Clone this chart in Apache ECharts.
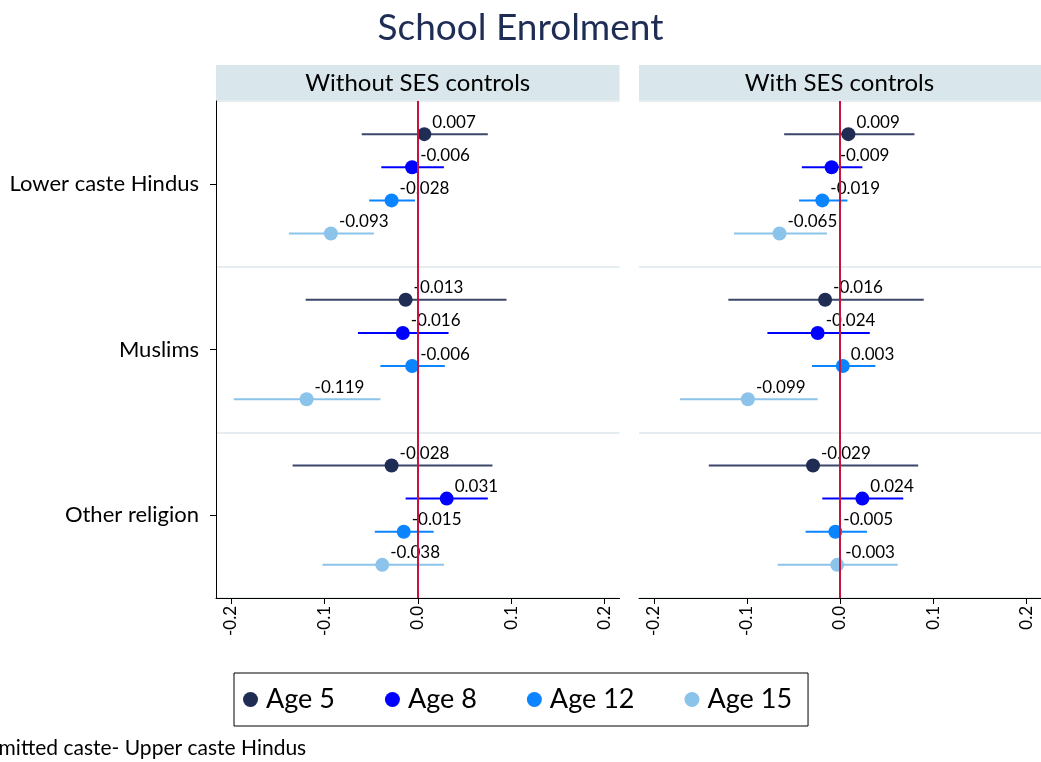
<!DOCTYPE html>
<html><head><meta charset="utf-8">
<script src="https://cdn.jsdelivr.net/npm/echarts@6/dist/echarts.min.js"></script>
<style>html,body{margin:0;padding:0;background:#fff}#c{width:1041px;height:762px}</style>
</head><body><div id="c"></div>
<script>
const groups = ['Lower caste Hindus', 'Muslims', 'Other religion'];
const ages = ['Age 5', 'Age 8', 'Age 12', 'Age 15'];
const xTicks = [-0.2, -0.1, 0, 0.1, 0.2];
const panels = ['Without SES controls', 'With SES controls'];

// Without SES controls: estimate, lower, upper per group
const noSesAge5Est = [0.007, -0.013, -0.028];
const noSesAge5Lo = [-0.060, -0.120, -0.134];
const noSesAge5Hi = [0.075, 0.095, 0.080];
const noSesAge8Est = [-0.006, -0.016, 0.031];
const noSesAge8Lo = [-0.039, -0.064, -0.013];
const noSesAge8Hi = [0.028, 0.033, 0.075];
const noSesAge12Est = [-0.028, -0.006, -0.015];
const noSesAge12Lo = [-0.052, -0.040, -0.046];
const noSesAge12Hi = [-0.003, 0.029, 0.017];
const noSesAge15Est = [-0.093, -0.119, -0.038];
const noSesAge15Lo = [-0.138, -0.197, -0.102];
const noSesAge15Hi = [-0.047, -0.040, 0.028];

// With SES controls
const sesAge5Est = [0.009, -0.016, -0.029];
const sesAge5Lo = [-0.060, -0.120, -0.141];
const sesAge5Hi = [0.080, 0.090, 0.084];
const sesAge8Est = [-0.009, -0.024, 0.024];
const sesAge8Lo = [-0.041, -0.078, -0.019];
const sesAge8Hi = [0.024, 0.032, 0.068];
const sesAge12Est = [-0.019, 0.003, -0.005];
const sesAge12Lo = [-0.044, -0.030, -0.037];
const sesAge12Hi = [0.008, 0.038, 0.029];
const sesAge15Est = [-0.065, -0.099, -0.003];
const sesAge15Lo = [-0.114, -0.172, -0.067];
const sesAge15Hi = [-0.014, -0.024, 0.062];

const colors = ['#1f2d55', '#0000ff', '#0a85ff', '#8cc3ea'];
const barColors = ['#3b4668', '#0000ff', '#0a85ff', '#8cc3ea'];

const panelData = [
  [[noSesAge5Est, noSesAge5Lo, noSesAge5Hi], [noSesAge8Est, noSesAge8Lo, noSesAge8Hi],
   [noSesAge12Est, noSesAge12Lo, noSesAge12Hi], [noSesAge15Est, noSesAge15Lo, noSesAge15Hi]],
  [[sesAge5Est, sesAge5Lo, sesAge5Hi], [sesAge8Est, sesAge8Lo, sesAge8Hi],
   [sesAge12Est, sesAge12Lo, sesAge12Hi], [sesAge15Est, sesAge15Lo, sesAge15Hi]]
];

function yPos(g, a) { return g + 0.5 + (a - 1.5) * 0.2; }

const FONT = 'Lato';
const series = [];
panelData.forEach((pd, p) => {
  pd.forEach((arr, a) => {
    const [est, lo, hi] = arr;
    series.push({
      type: 'custom', name: ages[a] + ' CI ' + p, xAxisIndex: p, yAxisIndex: p, z: 2, silent: true,
      data: groups.map((g, i) => [lo[i], hi[i], yPos(i, a)]),
      renderItem: function (params, api) {
        const s = api.coord([api.value(0), api.value(2)]);
        const e = api.coord([api.value(1), api.value(2)]);
        return { type: 'line', shape: { x1: s[0], y1: s[1], x2: e[0], y2: e[1] },
          style: { stroke: barColors[a], lineWidth: 2 } };
      }
    });
    series.push({
      type: 'scatter', name: ages[a], xAxisIndex: p, yAxisIndex: p, z: 3,
      symbol: 'circle', symbolSize: 14, itemStyle: { color: colors[a], opacity: 1 },
      data: groups.map((g, i) => [est[i], yPos(i, a)]),
      label: { show: true, position: 'right', distance: 0, offset: [1, -12],
        color: '#000', fontFamily: FONT, fontSize: 17,
        formatter: (d) => d.value[0].toFixed(3) }
    });
  });
  series.push({
    type: 'scatter', name: 'zero' + p, xAxisIndex: p, yAxisIndex: p, z: 10, data: [], silent: true,
    markLine: { silent: true, symbol: 'none', label: { show: false },
      lineStyle: { color: '#c8143c', width: 2, type: 'solid' },
      data: [{ xAxis: 0 }] }
  });
});

const gridTop = 101, gridH = 497;
const grids = [
  { left: 216, top: gridTop, width: 403.5, height: gridH },
  { left: 639, top: gridTop, width: 403, height: gridH }
];

const xAxes = [0, 1].map(p => ({
  type: 'value', gridIndex: p, min: -0.216, max: 0.216, position: 'bottom',
  axisLine: { show: true, onZero: false, lineStyle: { color: '#000', width: 1 } },
  axisTick: { show: true, length: 6, customValues: xTicks, lineStyle: { color: '#000' } },
  axisLabel: { show: true, rotate: 90, customValues: xTicks, color: '#000', fontFamily: FONT, fontSize: 17,
    margin: 8, formatter: v => v.toFixed(1) },
  splitLine: { show: false }
}));

const yAxes = [0, 1].map(p => ({
  type: 'value', gridIndex: p, min: 0, max: 3, interval: 1, inverse: true, position: 'left',
  axisLine: { show: false, onZero: false }, axisTick: { show: false }, axisLabel: { show: false },
  splitLine: { show: true, lineStyle: { color: '#e6edf1', width: 2 } }
})).concat([0, 1].map(p => ({
  type: 'category', gridIndex: p, data: groups, inverse: true, boundaryGap: true, position: 'left',
  axisLine: { show: p === 0, onZero: false, lineStyle: { color: '#000', width: 1 } },
  axisTick: { show: p === 0, alignWithLabel: true, length: 6, lineStyle: { color: '#000' } },
  axisLabel: { show: p === 0, color: '#000', fontFamily: FONT, fontSize: 22, margin: 17 },
  splitLine: { show: false }
})));

const headerH = 36;
const graphics = [];
panels.forEach((t, p) => {
  const g = grids[p];
  graphics.push({ type: 'rect', left: g.left, top: gridTop - headerH, silent: true, z: 0,
    shape: { width: g.width, height: headerH }, style: { fill: '#d9e6ec' } });
  graphics.push({ type: 'text', x: g.left + g.width / 2 - (p === 1 ? 1 : 0), y: gridTop - headerH / 2, silent: true, z: 1,
    style: { text: t, fill: '#000', font: '24px ' + FONT, textAlign: 'center', textVerticalAlign: 'middle' } });
});
graphics.push({ type: 'text', x: -18, y: 748, silent: true,
  style: { text: 'Omitted caste- Upper caste Hindus', fill: '#000', font: '21px ' + FONT, textVerticalAlign: 'middle' } });

const chart = echarts.init(document.getElementById('c'));
chart.setOption({
  backgroundColor: '#fff',
  animation: false,
  title: { text: 'School Enrolment', left: 'center', top: 5,
    textStyle: { color: '#1f2d55', fontFamily: FONT, fontSize: 37, fontWeight: 'normal' } },
  legend: {
    data: ages, left: 234, top: 673, orient: 'horizontal',
    icon: 'circle', itemWidth: 15, itemHeight: 15, itemGap: 50,
    borderColor: '#000', borderWidth: 1, padding: [13, 16, 13, 9],
    textStyle: { color: '#000', fontFamily: FONT, fontSize: 27, padding: [0, 0, 0, 3] }
  },
  grid: grids,
  xAxis: xAxes,
  yAxis: yAxes,
  graphic: graphics,
  series: series
});
</script></body></html>
